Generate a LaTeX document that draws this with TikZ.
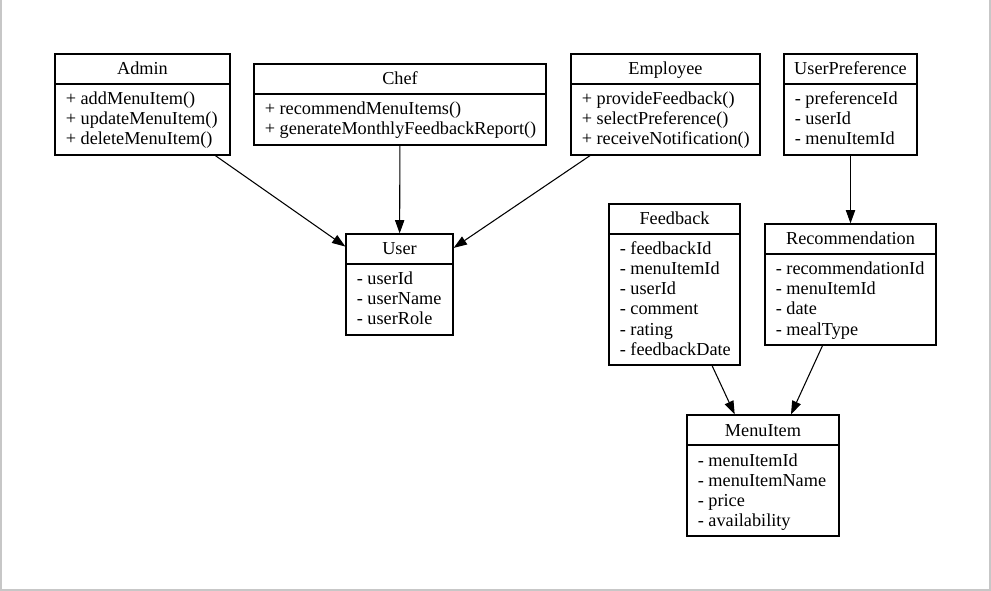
\documentclass[tikz,border=0pt]{standalone}
\usepackage{fontspec}
\setmainfont{Liberation Serif}
\usetikzlibrary{arrows.meta,fit}
\tikzset{
  classbox/.style={draw=black, line width=0.95pt, inner sep=0pt, rectangle},
  classline/.style={draw=black, line width=0.95pt},
  titletext/.style={inner sep=0pt, anchor=base, font=\fontsize{13.7pt}{15pt}\selectfont},
  bodytext/.style={inner sep=0pt, anchor=base west, font=\fontsize{13.7pt}{15pt}\selectfont},
  assoc/.style={draw=black, line width=0.8pt, -{Triangle[length=10pt,width=7pt]}},
  frameline/.style={draw=black!22, line width=1.2pt}
}
% #1 name, #2 left, #3 top, #4 right, #5 bottom, #6 title, #7 lines
\newcommand{\umlclass}[7]{%
  \node[classbox, fit={(#2,#3)(#4,#5)}] (#1) {};
  \draw[classline] (#2,#3+30) -- (#4,#3+30);
  \node[titletext] (#1-title) at ({(#2+#4)/2},#3+21) {#6};
  \foreach \lbl [count=\i] in {#7} {
    \node[bodytext] (#1-l\i) at (#2+10.5,#3+31+20*\i) {\lbl};
  }
}
\begin{document}
\begin{tikzpicture}[x=0.75pt,y=-0.75pt]
\useasboundingbox (0,0) rectangle (991,591);
% frame
\draw[frameline] (0.7,0) -- (0.7,591);
\draw[frameline] (989.8,0) -- (989.8,589.8) -- (0,589.8);

\umlclass{admin}{55}{54}{230}{155}{Admin}{+ addMenuItem(),+ updateMenuItem(),+ deleteMenuItem()}
\umlclass{chef}{254}{64}{546}{145}{Chef}{+ recommendMenuItems(),+ generateMonthlyFeedbackReport()}
\umlclass{employee}{571}{54}{760}{155}{Employee}{+ provideFeedback(),+ selectPreference(),+ receiveNotification()}
\umlclass{userpref}{784}{54}{917}{155}{UserPreference}{- preferenceId,- userId,- menuItemId}
\umlclass{user}{346}{234}{453}{335}{User}{- userId,- userName,- userRole}
\umlclass{feedback}{609}{204}{740}{365}{Feedback}{- feedbackId,- menuItemId,- userId,- comment,- rating,- feedbackDate}
\umlclass{recommendation}{765}{224}{936}{345}{Recommendation}{- recommendationId,- menuItemId,- date,- mealType}
\umlclass{menuitem}{687}{415}{839}{536}{MenuItem}{- menuItemId,- menuItemName,- price,- availability}

\draw[assoc] (admin) -- (user);
\draw[assoc] (chef) -- (user);
\draw[assoc] (employee) -- (user);
\draw[assoc] (userpref) -- (recommendation);
\draw[assoc] (feedback) -- (menuitem);
\draw[assoc] (recommendation) -- (menuitem);
\end{tikzpicture}
\end{document}
